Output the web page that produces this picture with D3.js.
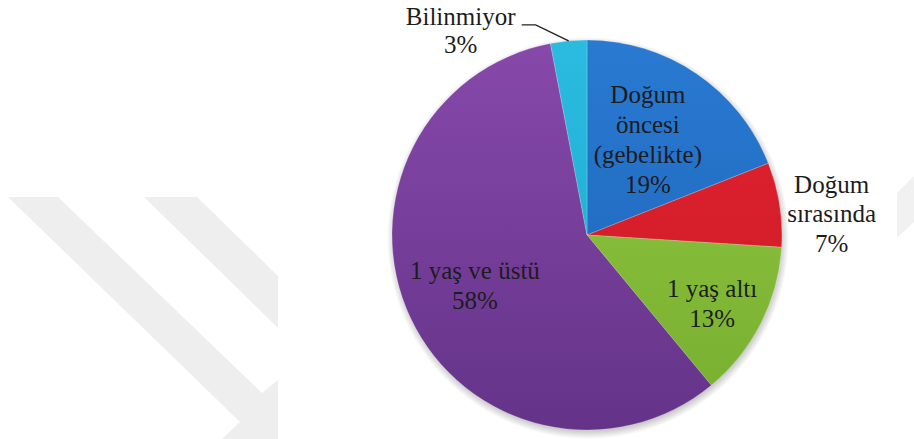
<!DOCTYPE html>
<html>
<head>
<meta charset="utf-8">
<script src="https://cdn.jsdelivr.net/npm/d3@7"></script>
<style>
  body { margin: 0; }
  #chart { position: relative; width: 914px; height: 439px; }
  #chart svg { position: absolute; left: 0; top: 0; }
  .lbl {
    position: absolute;
    font-family: 'Liberation Serif', serif;
    font-size: 25px;
    color: #1c1c1c;
    text-align: center;
    white-space: nowrap;
    transform: translateX(-50%);
  }
</style>
</head>
<body>
<div id="chart"></div>
<script>
// Data: slices clockwise from 12 o'clock
const categories = ['Doğum öncesi (gebelikte)', 'Doğum sırasında', '1 yaş altı', '1 yaş ve üstü', 'Bilinmiyor'];
const values = [19, 7, 13, 58, 3];
const labelLines = [
  ['Doğum', 'öncesi', '(gebelikte)', '19%'],
  ['Doğum', 'sırasında', '7%'],
  ['1 yaş altı', '13%'],
  ['1 yaş ve üstü', '58%'],
  ['Bilinmiyor', '3%']
];

const width = 914, height = 439;
const cx = 587, cy = 235, radius = 195;
const fontSize = 25;

// colour pairs: top (lighter) -> bottom (darker)
const colors = [
  ['#2a7ad2', '#1a62b6'],
  ['#e3232d', '#c81a28'],
  ['#93cc44', '#76ad2e'],
  ['#8749ab', '#643388'],
  ['#2bbbe0', '#19a8cf']
];

// label placement: radius factor, baseline shift, line height
const labelLayout = [
  { k: 0.555, dy: 3, lh: 30 },
  { k: 1.27, dy: 26, lh: 29.5 },
  { k: 0.72, dy: 14, lh: 30 },
  { k: 0.635, dy: 7, lh: 30 },
  { k: null, dy: 0, lh: 28 }
];

const container = d3.select('#chart');
const svg = container.append('svg')
  .attr('width', width)
  .attr('height', height);

const defs = svg.append('defs');

// watermark stripes (background decoration)
const wm = svg.append('g').attr('fill', '#eeeeee');
wm.append('polygon').attr('points', '8,197 58,197 262,393 278,380 278,439 222,439 240,422');
wm.append('polygon').attr('points', '144,197 197,197 278,276 278,328');
wm.append('polygon').attr('points', '897,193 914,176 914,222 897,238').attr('fill', '#f1f1f1');

// soft shadow under the pie
const sh = defs.append('radialGradient').attr('id', 'pie-shadow');
sh.append('stop').attr('offset', '94%').attr('stop-color', '#000').attr('stop-opacity', 0.3);
sh.append('stop').attr('offset', '100%').attr('stop-color', '#000').attr('stop-opacity', 0);

colors.forEach((c, i) => {
  const g = defs.append('linearGradient')
    .attr('id', 'grad-' + i)
    .attr('gradientUnits', 'userSpaceOnUse')
    .attr('x1', 0).attr('y1', -radius)
    .attr('x2', 0).attr('y2', radius);
  g.append('stop').attr('offset', '0%').attr('stop-color', c[0]);
  g.append('stop').attr('offset', '100%').attr('stop-color', c[1]);
});

const pie = d3.pie().sort(null).value(d => d);
const arcs = pie(values);
const arc = d3.arc().innerRadius(0).outerRadius(radius);

const pieG = svg.append('g')
  .attr('transform', `translate(${cx},${cy})`);

pieG.append('circle')
  .attr('cx', 1).attr('cy', 3)
  .attr('r', radius + 6)
  .attr('fill', 'url(#pie-shadow)');

pieG.append('g')
  .selectAll('path')
  .data(arcs)
  .join('path')
  .attr('d', arc)
  .attr('fill', (d, i) => `url(#grad-${i})`)
  .attr('stroke', 'rgba(255,255,255,0.35)')
  .attr('stroke-width', 0.6);

const midAngle = d => (d.startAngle + d.endAngle) / 2;

// Liberation Serif: ascent .891, descent .216
const baselineInLine = lh => (lh - 1.107 * fontSize) / 2 + 0.891 * fontSize;

arcs.forEach((d, i) => {
  const lay = labelLayout[i];
  const lines = labelLines[i];
  const a = midAngle(d);
  let x, midBase;
  if (lay.k !== null) {
    const r = radius * lay.k;
    x = r * Math.sin(a);
    midBase = -r * Math.cos(a) + lay.dy;
  } else {
    // leader line label
    const p0 = [radius * Math.sin(a), -radius * Math.cos(a)];
    const p1 = [p0[0] - 33, p0[1] - 16];
    const p2 = [p1[0] - 14, p1[1]];
    pieG.append('polyline')
      .attr('points', [p0, p1, p2].map(p => p.join(',')).join(' '))
      .attr('fill', 'none')
      .attr('stroke', '#222')
      .attr('stroke-width', 1.4);
    x = p2[0] - 61;
    midBase = p2[1] + 15;
  }
  const firstBase = cy + midBase - (lines.length - 1) * lay.lh / 2;
  const div = container.append('div')
    .attr('class', 'lbl')
    .style('left', (cx + x) + 'px')
    .style('top', (firstBase - baselineInLine(lay.lh)) + 'px')
    .style('line-height', lay.lh + 'px');
  lines.forEach((s, j) => {
    if (j > 0) div.append('br');
    div.append('span').text(s);
  });
});
</script>
</body>
</html>
